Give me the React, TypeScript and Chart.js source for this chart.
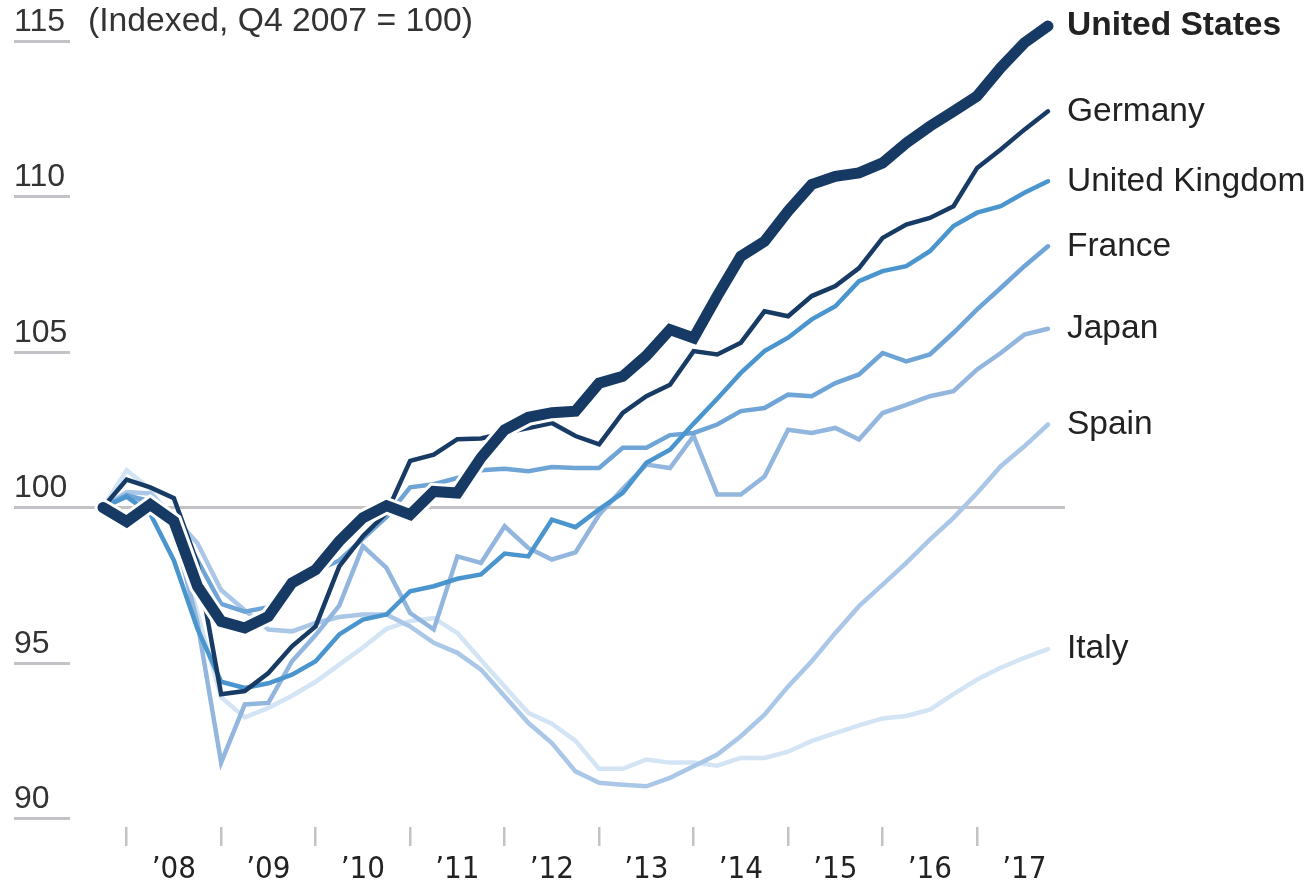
import React, { useEffect, useRef } from "react";
import { Chart, registerables } from "chart.js";

Chart.register(...registerables);

// Quarterly real GDP, indexed Q4 2007 = 100 (Q4 2007 ... Q4 2017)
const COUNTRIES = ["United States", "Germany", "United Kingdom", "France", "Japan", "Spain", "Italy"];

const US = [100, 99.55, 100.1, 99.56, 97.47, 96.34, 96.13, 96.5, 97.58, 98.0, 98.92, 99.67, 100.06, 99.77, 100.52, 100.47, 101.6, 102.5, 102.9, 103.05, 103.1, 104.0, 104.22, 104.88, 105.72, 105.45, 106.8, 108.08, 108.56, 109.53, 110.39, 110.65, 110.76, 111.08, 111.72, 112.26, 112.74, 113.23, 114.14, 114.94, 115.48];
const GERMANY = [100, 100.9, 100.65, 100.3, 98.2, 94.0, 94.1, 94.68, 95.54, 96.18, 98.11, 99.08, 99.83, 101.5, 101.7, 102.2, 102.22, 102.4, 102.56, 102.72, 102.3, 102.03, 103.04, 103.58, 103.95, 105.03, 104.92, 105.3, 106.31, 106.15, 106.8, 107.12, 107.7, 108.67, 109.1, 109.31, 109.69, 110.92, 111.51, 112.15, 112.74];
const UK = [100, 100.35, 99.8, 98.3, 96.1, 94.4, 94.2, 94.35, 94.63, 95.06, 95.92, 96.4, 96.56, 97.31, 97.47, 97.71, 97.85, 98.52, 98.43, 99.61, 99.37, 99.94, 100.47, 101.44, 101.86, 102.7, 103.5, 104.33, 105.03, 105.46, 106.05, 106.47, 107.28, 107.6, 107.76, 108.24, 109.05, 109.48, 109.69, 110.12, 110.49];
const FRANCE = [100, 100.4, 100.2, 99.6, 98.3, 96.9, 96.65, 96.8, 97.6, 97.95, 98.3, 99.0, 99.7, 100.65, 100.75, 100.95, 101.2, 101.25, 101.17, 101.3, 101.27, 101.27, 101.92, 101.92, 102.33, 102.4, 102.67, 103.1, 103.2, 103.63, 103.58, 104.0, 104.28, 104.97, 104.7, 104.92, 105.62, 106.37, 107.06, 107.76, 108.4];
const JAPAN = [100, 100.4, 100.1, 99.3, 96.3, 91.8, 93.67, 93.72, 95.06, 95.9, 96.85, 98.76, 98.06, 96.61, 96.08, 98.43, 98.22, 99.4, 98.7, 98.33, 98.56, 99.77, 100.6, 101.38, 101.27, 102.3, 100.42, 100.42, 101.0, 102.5, 102.4, 102.56, 102.19, 103.04, 103.3, 103.58, 103.74, 104.44, 104.97, 105.56, 105.75];
const SPAIN = [100, 100.5, 100.45, 99.7, 98.85, 97.35, 96.7, 96.08, 96.02, 96.29, 96.48, 96.56, 96.56, 96.18, 95.65, 95.33, 94.79, 93.93, 93.08, 92.43, 91.52, 91.15, 91.09, 91.04, 91.31, 91.68, 92.06, 92.65, 93.34, 94.25, 95.06, 95.97, 96.83, 97.52, 98.22, 98.97, 99.67, 100.47, 101.33, 101.97, 102.67];
const ITALY = [100, 101.2, 100.6, 99.3, 96.6, 93.9, 93.25, 93.56, 93.95, 94.4, 94.95, 95.5, 96.1, 96.35, 96.45, 95.97, 95.1, 94.25, 93.4, 93.05, 92.5, 91.6, 91.6, 91.9, 91.8, 91.8, 91.7, 91.95, 91.95, 92.15, 92.5, 92.75, 93.0, 93.22, 93.3, 93.5, 94.0, 94.47, 94.85, 95.17, 95.45];

const SERIES = [US, GERMANY, UK, FRANCE, JAPAN, SPAIN, ITALY];
const COLORS = ["#163a63", "#173b64", "#4a95ce", "#6fa4d6", "#92b6de", "#aac7e7", "#d3e4f5"];
const WIDTHS = [11, 4.5, 4.5, 4.5, 4.5, 4.5, 4.5];

// Year labels sit mid-year (quarter index), ticks fall on Q1 of each year
const YEAR_LABELS = ["\u201908", "\u201909", "\u201910", "\u201911", "\u201912", "\u201913", "\u201914", "\u201915", "\u201916", "\u201917"];
const YEAR_LABEL_POS = [3, 7, 11, 15, 19, 23, 27, 31, 35, 39];
const Y_TICKS = [90, 95, 100, 105, 110, 115];
const Y_NOTE = "(Indexed, Q4 2007 = 100)";

const FONT = "'Liberation Sans', Arial, Helvetica, sans-serif";
const NARROW = "'Liberation Sans Narrow', 'DejaVu Sans Condensed', 'Liberation Sans', sans-serif";
const GRAY = "#c3c3c7";

const endLabels = {
  id: "endLabels",
  afterDatasetsDraw(chart: any) {
    const ctx = chart.ctx;
    ctx.save();
    chart.data.datasets.forEach((ds: any, i: number) => {
      if (!ds.endLabel) return;
      const meta = chart.getDatasetMeta(i);
      const pt = meta.data[meta.data.length - 1];
      if (!pt) return;
      ctx.font = `${ds.endBold ? "bold " : ""}33.5px ${FONT}`;
      ctx.fillStyle = "#222222";
      ctx.textAlign = "left";
      ctx.textBaseline = "middle";
      ctx.fillText(ds.endLabel, pt.x + 19, pt.y);
    });
    // unit note next to the top y tick label
    const y = chart.scales.y;
    const top = y.getPixelForValue(Y_TICKS[Y_TICKS.length - 1]) - 19;
    ctx.font = `33.7px ${FONT}`;
    ctx.fillStyle = "#333333";
    ctx.textAlign = "left";
    ctx.textBaseline = "middle";
    ctx.fillText(Y_NOTE, 88, top);
    ctx.restore();
  },
};

export default function App() {
  const ref = useRef<HTMLCanvasElement>(null);

  useEffect(() => {
    const datasets: any[] = [];
    SERIES.forEach((values, i) => {
      const data = values.map((v, j) => ({ x: j, y: v }));
      datasets.push({
        label: COUNTRIES[i],
        endLabel: COUNTRIES[i],
        endBold: i === 0,
        data,
        borderColor: COLORS[i],
        borderWidth: WIDTHS[i],
        pointRadius: 0,
        fill: false,
        tension: 0,
        clip: false,
        borderCapStyle: "round",
        borderJoinStyle: "miter",
      });
      if (i === 0) {
        datasets.push({
          label: COUNTRIES[i] + " casing",
          data,
          borderColor: "#ffffff",
          borderWidth: WIDTHS[i] + 6,
          pointRadius: 0,
          fill: false,
          tension: 0,
          clip: false,
          borderCapStyle: "round",
          borderJoinStyle: "miter",
        });
      }
    });

    const chart = new Chart(ref.current as HTMLCanvasElement, {
      type: "line",
      data: { datasets },
      plugins: [endLabels],
      options: {
        animation: false,
        responsive: false,
        events: [],
        layout: { padding: { left: 14, right: 247, top: 41, bottom: 0 } },
        plugins: { legend: { display: false }, tooltip: { enabled: false } },
        scales: {
          x: {
            type: "linear",
            min: -1.397,
            max: 40.72,
            afterBuildTicks: (s: any) => {
              s.ticks = YEAR_LABEL_POS.map((v) => ({ value: v }));
            },
            afterFit: (s: any) => {
              s.height = 63;
            },
            border: { display: false },
            grid: {
              offset: true,
              drawOnChartArea: false,
              drawTicks: true,
              tickLength: 19,
              lineWidth: 2.5,
              color: GRAY,
            },
            ticks: {
              autoSkip: false,
              maxRotation: 0,
              padding: 5,
              color: "#222222",
              font: { family: NARROW, size: 31 },
              callback: (_v: any, i: number) => YEAR_LABELS[i],
            },
          },
          y: {
            type: "linear",
            min: 89.73,
            max: 115,
            afterBuildTicks: (s: any) => {
              s.ticks = Y_TICKS.map((v) => ({ value: v }));
            },
            afterFit: (s: any) => {
              s.width = 56;
            },
            border: { display: false },
            grid: {
              drawOnChartArea: true,
              drawTicks: true,
              tickLength: 56,
              lineWidth: 3,
              color: (c: any) => (c.tick && c.tick.value === 100 ? GRAY : "rgba(0,0,0,0)"),
              tickColor: GRAY,
            },
            ticks: {
              crossAlign: "far",
              labelOffset: -19,
              padding: 0,
              color: "#333333",
              font: { family: FONT, size: 32 },
              callback: (v: any) => String(v),
            },
          },
        },
      } as any,
    });
    return () => chart.destroy();
  }, []);

  return (
    <div style={{ position: "fixed", left: 0, top: 0, width: 1312, height: 890, background: "#ffffff" }}>
      <canvas ref={ref} width={1312} height={890} style={{ display: "block", width: 1312, height: 890 }} />
    </div>
  );
}
